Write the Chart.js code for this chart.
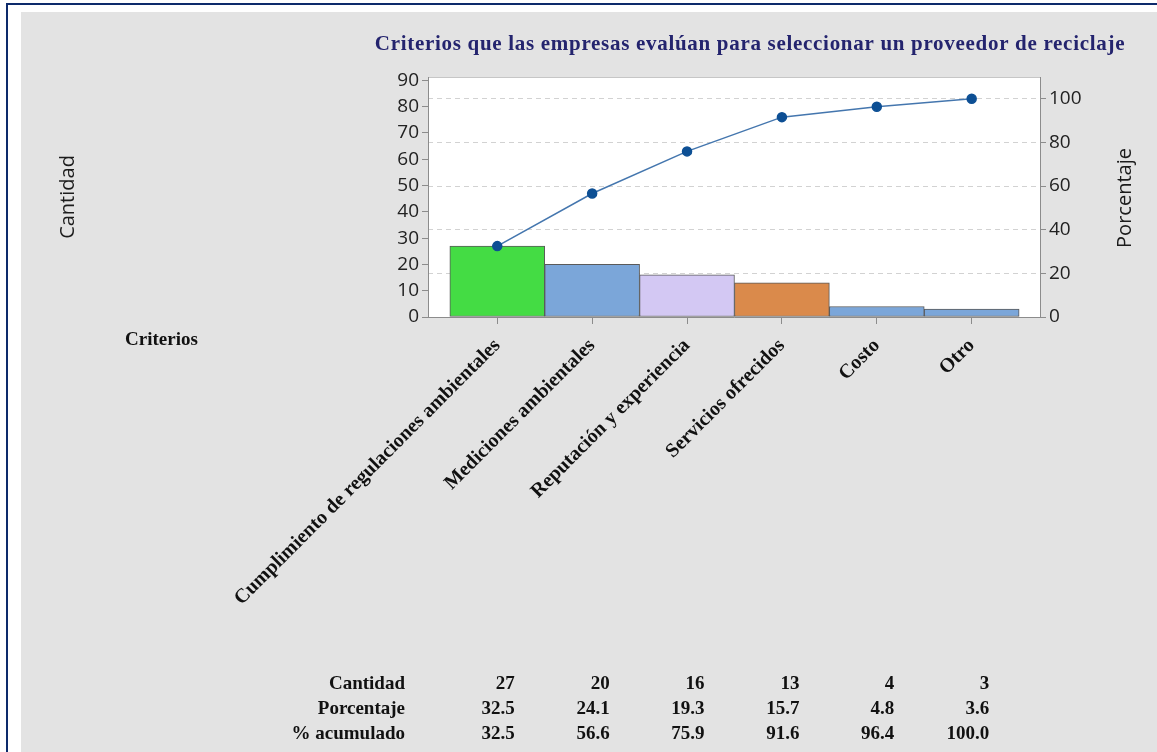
<!DOCTYPE html>
<html>
<head>
<meta charset="utf-8">
<script src="https://cdn.jsdelivr.net/npm/chart.js@4.4.1/dist/chart.umd.min.js"></script>
<style>
  html, body { margin: 0; padding: 0; background: #fff; }
  #frame {
    position: absolute; left: 6px; top: 3px; width: 1151px; height: 749px;
    border-left: 2px solid #0d2a6b; border-top: 2px solid #0d2a6b;
  }
  #panel { position: absolute; left: 21px; top: 12px; right: 0; bottom: 0; background: #e3e3e3; }
  #chart { position: absolute; left: 0; top: 0; }
</style>
</head>
<body>
<div id="frame"></div>
<div id="panel"></div>
<canvas id="chart" width="1157" height="752"></canvas>
<script>
// Datos del diagrama de Pareto
const cats = ['Cumplimiento de regulaciones ambientales', 'Mediciones ambientales', 'Reputación y experiencia',
              'Servicios ofrecidos', 'Costo', 'Otro'];
const counts = [27, 20, 16, 13, 4, 3];
const pct = [32.5, 24.1, 19.3, 15.7, 4.8, 3.6];
const cumPct = [32.5, 56.6, 75.9, 91.6, 96.4, 100.0];
const countMax = 91.3;   // total (83) + 10 %
const pctMax = 110;
const barColors = ['#44dc44', '#7ba6d9', '#d3c8f3', '#da8a4b', '#7ba6d9', '#7ba6d9'];

const SERIF = "'Liberation Serif', 'Times New Roman', serif";
const SANS = "'Open Sans', 'Noto Sans', sans-serif";

// Título, etiquetas sueltas y tabla inferior
const decor = {
    id: 'decor',
    beforeDraw(chart) {
        const { ctx, chartArea: a } = chart;
        ctx.save();
        ctx.fillStyle = '#fff';
        ctx.fillRect(a.left, a.top, a.right - a.left, a.bottom - a.top);
        ctx.strokeStyle = '#c6c6c6';
        ctx.lineWidth = 1;
        ctx.beginPath();
        ctx.moveTo(a.left, a.top + 0.5);
        ctx.lineTo(a.right, a.top + 0.5);
        ctx.stroke();
        ctx.restore();
    },
    afterDraw(chart) {
        const { ctx } = chart;
        const xs = chart.scales.x;
        ctx.save();

        ctx.fillStyle = '#24246e';
        ctx.font = `bold 21px ${SERIF}`;
        ctx.letterSpacing = '0.7px';
        ctx.textAlign = 'center';
        ctx.textBaseline = 'middle';
        ctx.fillText('Criterios que las empresas evalúan para seleccionar un proveedor de reciclaje', 750, 45);
        ctx.letterSpacing = '0px';

        ctx.fillStyle = '#111';
        ctx.font = `bold 19px ${SERIF}`;
        ctx.textAlign = 'left';
        ctx.fillText('Criterios', 125, 340);

        // eje derecho
        ctx.save();
        ctx.translate(1125, 198);
        ctx.rotate(-Math.PI / 2);
        ctx.font = `20px ${SANS}`;
        ctx.fillStyle = '#1c1c1c';
        ctx.textAlign = 'center';
        ctx.fillText('Porcentaje', 0, 0);
        ctx.restore();

        // tabla
        const rows = [
            ['Cantidad', counts.map(v => String(v))],
            ['Porcentaje', pct.map(v => v.toFixed(1))],
            ['% acumulado', cumPct.map(v => v.toFixed(1))]
        ];
        ctx.font = `bold 19px ${SERIF}`;
        ctx.fillStyle = '#111';
        ctx.textAlign = 'right';
        rows.forEach((row, r) => {
            const y = 684 + r * 25;
            ctx.fillText(row[0], 405, y);
            row[1].forEach((txt, i) => {
                ctx.fillText(txt, xs.getPixelForValue(i) + 17.5, y);
            });
        });
        ctx.restore();
    }
};

new Chart(document.getElementById('chart'), {
    type: 'bar',
    data: {
        datasets: [
            {
                type: 'line',
                data: cumPct.map((v, i) => ({ x: i, y: v })),
                yAxisID: 'y2',
                borderColor: '#4476ae',
                borderWidth: 1.5,
                pointRadius: 4.5,
                pointBackgroundColor: '#0d4f94',
                pointBorderColor: '#0d4f94',
                tension: 0,
                order: 1
            },
            {
                data: counts.map((v, i) => ({ x: i, y: v })),
                yAxisID: 'y',
                backgroundColor: barColors,
                borderColor: '#5a5a5a',
                borderWidth: 1,
                borderSkipped: false,
                barPercentage: 1,
                categoryPercentage: 1,
                order: 2
            }
        ]
    },
    options: {
        responsive: false,
        devicePixelRatio: 1,
        animation: false,
        layout: { padding: { left: 0, right: 0, top: 77, bottom: 0 } },
        plugins: { legend: { display: false }, tooltip: { enabled: false } },
        scales: {
            x: {
                type: 'linear',
                position: 'bottom',
                min: -0.73,
                max: 5.72,
                offset: false,
                grid: { offset: false, drawOnChartArea: false, tickLength: 7, color: '#8c8c8c' },
                border: { color: '#8c8c8c' },
                afterBuildTicks: axis => { axis.ticks = cats.map((c, i) => ({ value: i })); },
                afterFit: axis => { axis.height = 435; },
                ticks: {
                    autoSkip: false,
                    minRotation: 45,
                    maxRotation: 45,
                    padding: 10,
                    color: '#111',
                    font: { family: SERIF, size: 20, weight: 'bold' },
                    callback: v => cats[v]
                }
            },
            y: {
                position: 'left',
                min: 0,
                max: countMax,
                afterFit: axis => { axis.width = 428; },
                grid: { drawOnChartArea: false, tickLength: 6, color: '#8c8c8c' },
                border: { color: '#8c8c8c' },
                ticks: {
                    stepSize: 10,
                    includeBounds: false,
                    padding: 3,
                    color: '#222',
                    font: { family: SANS, size: 19 }
                },
                title: {
                    display: true,
                    text: 'Cantidad',
                    color: '#1c1c1c',
                    font: { family: SANS, size: 20 },
                    padding: { top: 56, bottom: 0 }
                }
            },
            y2: {
                position: 'right',
                min: 0,
                max: pctMax,
                afterFit: axis => { axis.width = 117; },
                grid: { drawOnChartArea: true, tickLength: 6, color: '#d2d2d2', tickColor: '#8c8c8c' },
                border: { color: '#8c8c8c', dash: [5, 4] },
                ticks: {
                    stepSize: 20,
                    includeBounds: false,
                    padding: 3,
                    color: '#222',
                    font: { family: SANS, size: 19 }
                }
            }
        }
    },
    plugins: [decor]
});
</script>
</body>
</html>
